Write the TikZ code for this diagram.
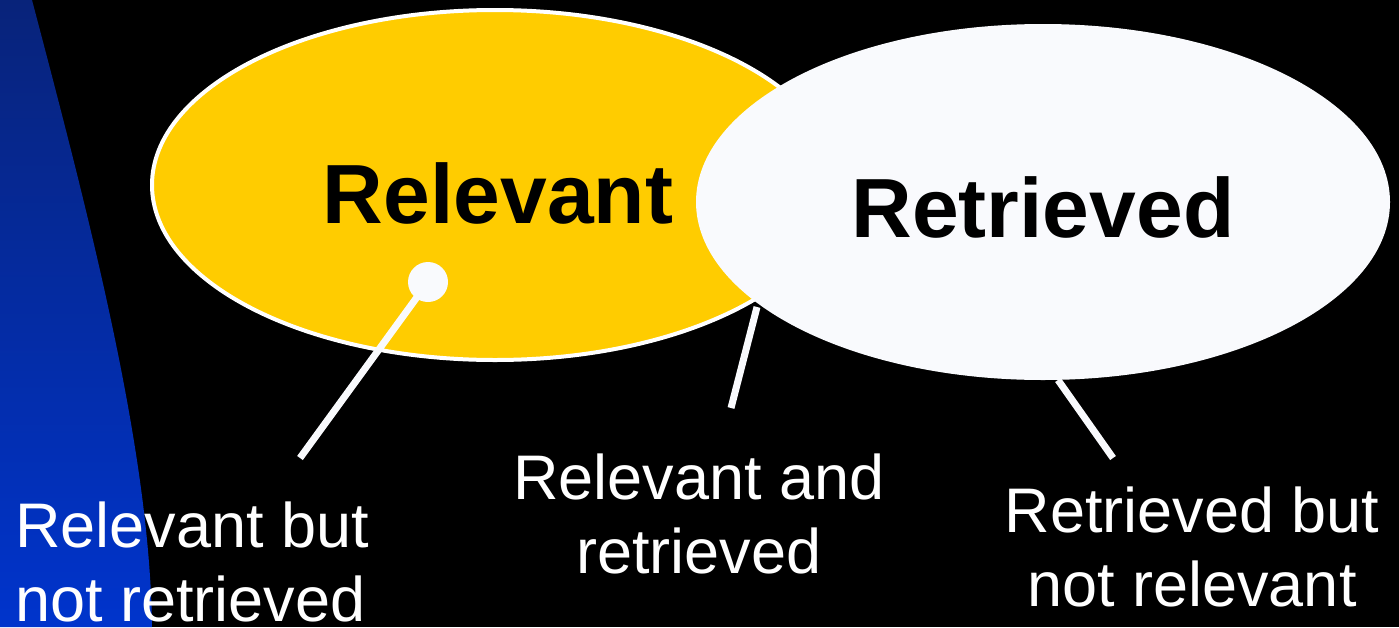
\documentclass[tikz,border=0pt]{standalone}
\usepackage{fontspec}
\setmainfont{Liberation Sans}
\usetikzlibrary{shapes.geometric}
\definecolor{navytop}{HTML}{08237A}
\definecolor{bluebot}{HTML}{0034CC}
\definecolor{setyellow}{HTML}{FFCC00}
\definecolor{setwhite}{HTML}{F9FAFD}
\tikzset{
  setname/.style={font=\fontsize{84}{90}\selectfont\bfseries, text=black},
  caption/.style={font=\fontsize{63}{74}\selectfont, text=white, inner sep=0pt},
  pointer/.style={draw=setwhite, line width=7pt},
}
\begin{document}
\begin{tikzpicture}[x=1pt,y=-1pt]
  % background
  \fill[black] (0,0) rectangle (1399,627);
  \useasboundingbox (0,0) rectangle (1399,627);
  % curved blue band on the left
  \shade[top color=navytop, bottom color=bluebot]
    (0,0) -- (32,0) .. controls (90,220) and (150,450) .. (152,627) -- (0,627) -- cycle;
  % the two sets
  \node (rel) [ellipse, draw=white, line width=4pt, fill=setyellow,
    minimum width=686pt, minimum height=350pt, inner sep=0pt] at (495,185) {};
  \node (ret) [ellipse, fill=setwhite,
    minimum width=694pt, minimum height=356pt, inner sep=0pt] at (1043,202) {};
  \node (reltext) [setname] at (498,193) {Relevant};
  \node (rettext) [setname] at (1043,207) {Retrieved};
  % region markers
  \node (dot) [circle, fill=setwhite, minimum size=40pt, inner sep=0pt] at (428,282) {};
  \coordinate (tipA) at (300,458);
  \coordinate (baseB) at (757,307);
  \coordinate (tipB) at (731,408);
  \coordinate (baseC) at (1058,380);
  \coordinate (tipC) at (1113,458);
  \draw[pointer] (dot.center) -- (tipA);
  \draw[pointer] (baseB) -- (tipB);
  \draw[pointer] (baseC) -- (tipC);
  % region captions
  \node (capA) [caption, align=left, anchor=west] at (15,562) {Relevant but\\not retrieved};
  \node (capB) [caption, align=center] at (699,514) {Relevant and\\retrieved};
  \node (capC) [caption, align=center] at (1192,547) {Retrieved but\\not relevant};
\end{tikzpicture}
\end{document}
